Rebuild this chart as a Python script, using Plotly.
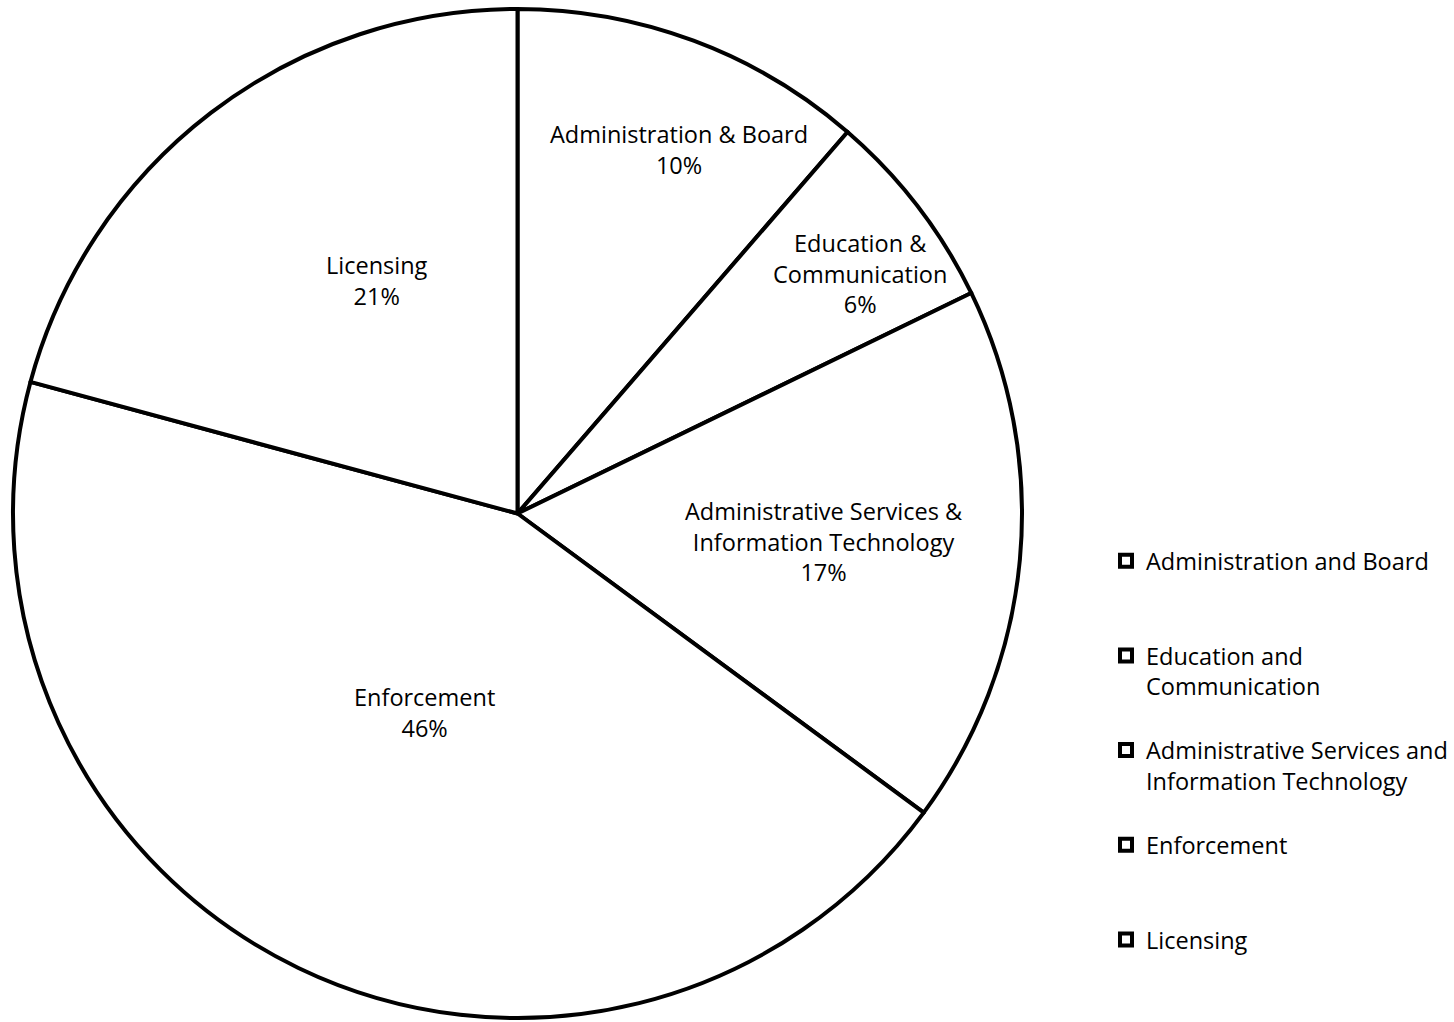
import math
import plotly.graph_objects as go

# ---- data ----
legend_names = [
    "Administration and Board",
    "Education and<br>Communication",
    "Administrative Services and<br>Information Technology",
    "Enforcement",
    "Licensing",
]
slice_names = [
    "Administration & Board",
    "Education &<br>Communication",
    "Administrative Services &<br>Information Technology",
    "Enforcement",
    "Licensing",
]
values = [11.35, 6.45, 17.3, 44.1, 20.8]
pct_labels = ["10%", "6%", "17%", "46%", "21%"]

# ---- style ----
W, H = 1454, 1022
CX, CY, R = 517.5, 513.5, 504.5
FONT = "Open Sans, Calibri, Carlito, sans-serif"
FS = 23.5
label_r = [0.79, 0.83, 0.61, 0.435, 0.54]
label_dang = [3.5, 2.5, 0.0, -0.8, 6.3]

# pad legend entries (except the last) to equal height of 3 lines
legend_padded = []
for i, n in enumerate(legend_names):
    lines = n.count("<br>") + 1
    pad = 0 if i == len(legend_names) - 1 else 3 - lines
    legend_padded.append(n + "<br> " * pad)

fig = go.Figure(
    go.Pie(
        labels=legend_padded,
        values=values,
        sort=False,
        direction="clockwise",
        rotation=0,
        textinfo="none",
        marker=dict(colors=["white"] * len(values), line=dict(color="black", width=4)),
        domain=dict(x=[(CX - R) / W, (CX + R) / W], y=[1 - (CY + R) / H, 1 - (CY - R) / H]),
        hoverinfo="label+percent",
    )
)

total = sum(values)
cum = 0.0
annotations = []
for i, v in enumerate(values):
    mid = (cum + v / 2) / total * 360 + label_dang[i]
    cum += v
    r = label_r[i] * R
    px = CX + r * math.sin(math.radians(mid))
    py = CY - r * math.cos(math.radians(mid))
    annotations.append(
        dict(
            x=px / W, y=1 - py / H, xref="paper", yref="paper",
            xanchor="center", yanchor="middle",
            text=f"{slice_names[i]}<br>{pct_labels[i]}",
            showarrow=False, align="center",
            font=dict(family=FONT, size=FS, color="black"),
        )
    )

fig.update_layout(
    width=W, height=H,
    margin=dict(l=0, r=0, t=0, b=0, autoexpand=False),
    paper_bgcolor="white", plot_bgcolor="white",
    annotations=annotations,
    showlegend=True,
    legend=dict(
        x=1106 / W, y=1 - 539 / H, xanchor="left", yanchor="top",
        font=dict(family=FONT, size=FS, color="black"),
        valign="top", bgcolor="rgba(0,0,0,0)", itemwidth=30,
    ),
)

fig.write_html("out.html")
